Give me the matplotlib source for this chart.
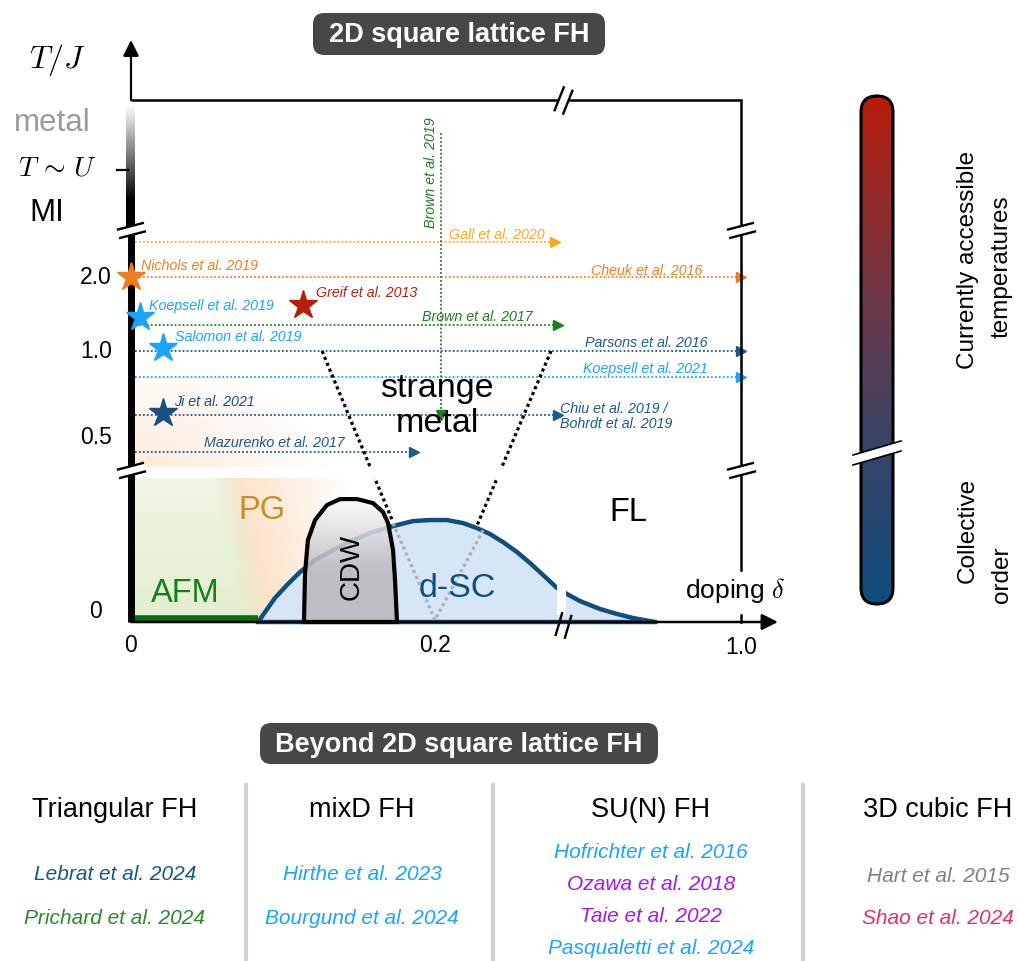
import numpy as np
import matplotlib.pyplot as plt
from matplotlib.path import Path
from matplotlib.patches import Polygon, FancyBboxPatch
from matplotlib.colors import LinearSegmentedColormap

plt.rcParams['font.family'] = ['Liberation Sans', 'DejaVu Sans']
plt.rcParams['mathtext.fontset'] = 'cm'

W, H = 1019, 961

# === 2D square lattice FH: experiments (doping delta, T/J) ===
arrow_refs = ["Gall et al. 2020", "Cheuk et al. 2016", "Brown et al. 2017", "Parsons et al. 2016",
              "Koepsell et al. 2021", "Chiu et al. 2019 /\nBohrdt et al. 2019", "Mazurenko et al. 2017"]
arrow_T = [2.47, 2.0, 1.35, 1.0, 0.85, 0.63, 0.41]
arrow_doping_end = [0.279, 1.0, 0.281, 1.0, 1.0, 0.281, 0.186]

star_refs = ["Nichols et al. 2019", "Koepsell et al. 2019", "Greif et al. 2013",
             "Salomon et al. 2019", "Ji et al. 2021"]
star_doping = [0.0, 0.006, 0.113, 0.021, 0.021]
star_T = [2.0, 1.46, 1.62, 1.04, 0.64]

vert_ref = "Brown et al. 2019"
vert_doping = 0.204
vert_T = [24.5, 0.63]

# === schematic phases (below the lower T break) ===
dome_doping = [0.0836, 0.0882, 0.0947, 0.1026, 0.1112, 0.1211, 0.1329, 0.1461, 0.1592, 0.1724,
               0.1855, 0.1967, 0.2079, 0.2184, 0.2276, 0.2362, 0.2447, 0.2539, 0.2625, 0.2711,
               0.2803, 0.2936, 0.3464, 0.4276, 0.4966, 0.5616, 0.6509]
dome_T = [0.0, 0.0197, 0.0473, 0.0730, 0.0986, 0.1223, 0.1420, 0.1617, 0.1775, 0.1893,
          0.1992, 0.2012, 0.2012, 0.1953, 0.1854, 0.1736, 0.1578, 0.1381, 0.1164, 0.0927,
          0.0671, 0.0552, 0.0414, 0.0256, 0.0158, 0.0079, 0.0]
cdw_doping = [0.1138, 0.1145, 0.1164, 0.1211, 0.1289, 0.1375, 0.1487, 0.1592, 0.1658,
              0.1691, 0.1724, 0.1737, 0.1750]
cdw_T = [0.0, 0.0966, 0.1617, 0.2012, 0.2308, 0.2426, 0.2426, 0.2347, 0.2170,
         0.1953, 0.1420, 0.0828, 0.0]
afm_doping = [0.0, 0.0836]
sm_left_doping, sm_left_T = [0.1257, 0.1724], [1.0, 0.197]
sm_right_doping, sm_right_T = [0.2263, 0.2763], [0.181, 1.0]
crit_doping, crit_T = [0.1724, 0.2, 0.2316], [0.195, 0.004, 0.181]

x_ticks, x_tick_labels = [0.0, 0.2, 1.0], ["0", "0.2", "1.0"]
y_ticks, y_tick_labels = [2.0, 1.0, 0.5, 0.02], ["2.0", "1.0", "0.5", "0"]

# === Beyond 2D square lattice FH ===
columns = ["Triangular FH", "mixD FH", "SU(N) FH", "3D cubic FH"]
column_refs = [["Lebrat et al. 2024", "Prichard et al. 2024"],
               ["Hirthe et al. 2023", "Bourgund et al. 2024"],
               ["Hofrichter et al. 2016", "Ozawa et al. 2018", "Taie et al. 2022", "Pasqualetti et al. 2024"],
               ["Hart et al. 2015", "Shao et al. 2024"]]

# === styles ===
DARK = '#1b5a8e'
LIGHT = '#1aa3ff'
arrow_colors = ['#f7a823', '#ef7d1e', '#1e7e1e', DARK, LIGHT, DARK, DARK]
arrow_label_off = [(-10, 7), (-39, 6), (-26, 8), (-33, 8), (-33, 8), (2, -2), (-69, 9)]  # px
star_colors = ['#ef7d1e', LIGHT, '#b3200e', LIGHT, '#164f80']
star_label_off = [(10, 11), (9, 11), (13, 12), (12, 11), (11, 11)]
column_colors = [['#15578a', '#2a8a2a'], [LIGHT, LIGHT],
                 [LIGHT, '#a517e8', '#a517e8', LIGHT], ['#808080', '#e0306a']]
PX = 0.72  # points per pixel at dpi 100

# === broken axes: piecewise linear scales ===
x_anchor = [-1.0, 0.0, 0.2, 0.2855, 1.0, 3.0]
x_pixel = [-1520.0, 0.0, 304.0, 434.0, 610.0, 1102.6]
y_anchor = [-1.0, 0.0, 0.3, 0.5, 1.0, 2.0, 2.6, 16.0, 32.0, 48.0, 80.0]
y_pixel = [-507.0, 0.0, 152.0, 185.0, 271.0, 345.0, 390.0, 452.0, 522.0, 582.0, 642.0]
X0, Y0 = 131, 622


def fx(v): return np.interp(v, x_anchor, x_pixel)
def fx_inv(p): return np.interp(p, x_pixel, x_anchor)
def fy(v): return np.interp(v, y_anchor, y_pixel)
def fy_inv(p): return np.interp(p, y_pixel, y_anchor)


fig = plt.figure(figsize=(W / 100, H / 100), dpi=100)
ax = fig.add_axes([0, 0, 1, 1])
ax.set_xscale('function', functions=(fx, fx_inv))
ax.set_yscale('function', functions=(fy, fy_inv))
ax.set_autoscale_on(False)
ax.set_xlim(fx_inv(-X0), fx_inv(W - X0))
ax.set_ylim(fy_inv(Y0 - H), fy_inv(Y0))
ax.axis('off')

# === background shading (AFM / PG) ===
d_e = np.linspace(0, 0.2855, 141)
T_e = np.linspace(0, 0.284, 71)
DC, TC = np.meshgrid(0.5 * (d_e[1:] + d_e[:-1]), 0.5 * (T_e[1:] + T_e[:-1]))
edge = 0.0836 - 0.0206 * TC / 0.284
w = np.clip((edge - DC) / 0.02 + 0.5, 0, 1)          # soft AFM / PG boundary
col_g = np.array([0.62, 0.78, 0.36])
col_o = np.array([0.98, 0.70, 0.45])
a_g = 0.30 - 0.14 * TC / 0.284
a_o = 0.42 * np.clip(1 - (DC - edge) / 0.08, 0, 1)
rgba = np.zeros(DC.shape + (4,))
rgba[..., :3] = w[..., None] * col_g + (1 - w[..., None]) * col_o
rgba[..., 3] = w * a_g + (1 - w) * a_o
ax.pcolormesh(d_e, T_e, rgba, zorder=1)

d_e2 = np.linspace(0, 0.16, 81)
T_e2 = fy_inv(np.linspace(155, 290, 61))
DC2, TC2 = np.meshgrid(0.5 * (d_e2[1:] + d_e2[:-1]), 0.5 * (T_e2[1:] + T_e2[:-1]))
r = np.sqrt((fx(DC2) / 200) ** 2 + ((fy(TC2) - 155) / 110) ** 2)
rgba2 = np.zeros(DC2.shape + (4,))
rgba2[..., :3] = [0.98, 0.72, 0.5]
rgba2[..., 3] = 0.3 * np.clip(1 - r, 0, 1)
ax.pcolormesh(d_e2, T_e2, rgba2, zorder=1)

# === experiments ===
dots = (0, (1, 1.2))
for name, T, d_end, c, (ox, oy) in zip(arrow_refs, arrow_T, arrow_doping_end, arrow_colors, arrow_label_off):
    ax.plot([0, d_end], [T, T], color=c, lw=1.3, ls=dots, zorder=3)
    ax.plot(d_end, T, marker='>', ms=6.5, color=c, zorder=3)
    ax.annotate(name, (d_end, T), xytext=(ox * PX, oy * PX), textcoords='offset points',
                ha='right' if ox < 0 else 'left', va='center', fontsize=10.3, style='italic',
                color=c, linespacing=1.15, zorder=12)

ax.plot([vert_doping, vert_doping], vert_T, color='#1e7e1e', lw=1.3, ls=dots, zorder=3)
ax.plot(vert_doping, vert_T[1], marker='v', ms=6.5, color='#1e7e1e', zorder=3)
ax.annotate(vert_ref, (vert_doping, vert_T[0]), xytext=(-10 * PX, 15 * PX), textcoords='offset points',
            rotation=90, ha='center', va='top', fontsize=10.3, style='italic', color='#1e7e1e', zorder=12)

# === strange metal crossover ===
ax.plot(sm_left_doping, sm_left_T, color='k', lw=2.3, ls=(0, (1, 1)), zorder=3)
ax.plot(sm_right_doping, sm_right_T, color='k', lw=2.3, ls=(0, (1, 1)), zorder=3)

# white gap at the lower T break
ax.fill_between([0.0, 0.2855], 0.284, 0.318, color='white', lw=0, zorder=4)

# === d-SC dome ===
ax.fill(dome_doping, dome_T, color='#d7e6f6', lw=0, zorder=5)
ax.plot(dome_doping, dome_T, color='#0e4f80', lw=3.2, zorder=6, solid_capstyle='butt')
ax.plot([dome_doping[0], dome_doping[-1]], [0, 0], color='#0e4f80', lw=3.2, zorder=6)
ax.plot(crit_doping, crit_T, color='#a9b1ba', lw=2.3, ls=(0, (1, 1)), zorder=6.2)
ax.fill_between([0.2803, 0.2896], 0.014, 0.12, color='white', lw=0, zorder=6.5)

# === CDW ===
cdw = Polygon(np.column_stack([cdw_doping, cdw_T]), closed=True, fc='none', ec='k', lw=3, zorder=8)
ax.add_patch(cdw)
cT_e = np.linspace(0, 0.25, 51)
cTc = 0.5 * (cT_e[1:] + cT_e[:-1])
g = 0.72 + 0.26 * np.clip((cTc - 0.1) / 0.14, 0, 1)
crgba = np.zeros((50, 1, 4))
crgba[:, 0, 0] = g
crgba[:, 0, 1] = g
crgba[:, 0, 2] = np.minimum(g + 0.01, 1)
crgba[:, 0, 3] = 0.85
mesh = ax.pcolormesh([0.11, 0.18], cT_e, crgba, zorder=7)
mesh.set_clip_path(cdw)

# === AFM line ===
ax.plot(afm_doping, [0.006, 0.006], color='#0d6e0f', lw=5.5, zorder=6, solid_capstyle='butt')

# === axes ===
ax.plot([0, 0], [0, 3.0], color='k', lw=5, solid_capstyle='butt', zorder=9)
gb_T = fy_inv(np.linspace(fy(3.0), fy(32.0), 81))
gb_c = 0.5 * (gb_T[1:] + gb_T[:-1])
lvl = np.clip((fy(gb_c) - 422) / (517 - 422), 0, 1)
gb = np.zeros((80, 1, 4))
gb[:, 0, 0] = lvl
gb[:, 0, 1] = lvl
gb[:, 0, 2] = lvl
gb[:, 0, 3] = 1
ax.pcolormesh([fx_inv(-4.5), fx_inv(4.5)], gb_T, gb, zorder=9)
ax.annotate('', xy=(0, 48), xytext=(0, 32),
            arrowprops=dict(arrowstyle='-|>,head_length=0.8,head_width=0.4', mutation_scale=12,
                            color='k', lw=1.6, shrinkA=0, shrinkB=0), zorder=9)
ax.annotate('', xy=(1.15, 0), xytext=(0, 0),
            arrowprops=dict(arrowstyle='-|>,head_length=0.8,head_width=0.4', mutation_scale=12,
                            color='k', lw=1.8, shrinkA=0, shrinkB=0), zorder=9)
ax.plot([0, 1.0], [32, 32], color='k', lw=1.8, zorder=9, solid_capstyle='butt')
ax.plot([1.0, 1.0], [32, 0.1026], color='k', lw=1.8, zorder=9)
ax.plot([1.0, 1.0], [0, 0.014], color='k', lw=1.8, zorder=9)
ax.plot([fx_inv(-14), fx_inv(-3)], [16, 16], color='k', lw=1.6, zorder=9)


def break_mark(x, y, dx, dy, sep, white=True):
    u = np.array([dx, dy]) / 2.0
    n = np.array([-dy, dx]) / np.hypot(dx, dy) * sep / 2.0
    if white:
        v = np.array([-u, u])
        m = Path(v, [Path.MOVETO, Path.LINETO])
        ax.plot(x, y, marker=m, ms=2 * np.abs(v).max() * PX, mec='white', mfc='none',
                mew=sep * PX, ls='none', zorder=10)
    v = np.array([-u + n, u + n, -u - n, u - n])
    m = Path(v, [Path.MOVETO, Path.LINETO, Path.MOVETO, Path.LINETO])
    ax.plot(x, y, marker=m, ms=2 * np.abs(v).max() * PX, mec='k', mfc='none',
            mew=1.7, ls='none', zorder=11)


for bx, by in [(0, 3.0), (0, 0.3), (1.0, 3.0), (1.0, 0.3)]:
    break_mark(bx, by, 27, 7, 8.7)
break_mark(0.284, 32, 10, 25, 9.3)
break_mark(0.284, -0.006, 7, 24, 9.6, white=False)

# === stars ===
for name, d, T, c, (ox, oy) in zip(star_refs, star_doping, star_T, star_colors, star_label_off):
    ax.plot(d, T, marker='*', ms=21, color=c, mec=c, ls='none', zorder=11)
    ax.annotate(name, (d, T), xytext=(ox * PX, oy * PX), textcoords='offset points',
                ha='left', va='center', fontsize=10.3, style='italic', color=c, zorder=12)

# === tick labels ===
for t, lab in zip(x_ticks, x_tick_labels):
    ax.text(t, -0.046 if lab != "1.0" else -0.051, lab, ha='center', va='center', fontsize=16.5, zorder=12)
for t, lab in zip(y_ticks, y_tick_labels):
    ax.text(fx_inv(-35), t, lab, ha='center', va='center', fontsize=16.5, zorder=12)

# === phase labels ===
ax.text(0.2013, 0.68, "strange\nmetal", ha='center', va='center', fontsize=24.5, linespacing=1.15, zorder=12)
ax.text(0.0862, 0.221, "PG", ha='center', va='center', fontsize=23.5, color='#c4902f', zorder=12)
ax.text(0.0355, 0.057, "AFM", ha='center', va='center', fontsize=23.5, color='#1a7d1a', zorder=12)
ax.text(0.1454, 0.108, "CDW", ha='center', va='center', fontsize=20, rotation=90, zorder=12)
ax.text(0.2145, 0.067, "d-SC", ha='center', va='center', fontsize=24.5, color='#0e4f80', zorder=12)
ax.text(0.541, 0.217, "FL", ha='center', va='center', fontsize=23.5, zorder=12)
ax.text(0.976, 0.063, r"doping $\delta$", ha='center', va='center', fontsize=19, zorder=12)

# === colour bar of accessible temperatures ===
cmap = LinearSegmentedColormap.from_list('temp', [(0, '#0e4d7f'), (0.35, '#3e4262'),
                                                  (0.6, '#6e3848'), (1, '#b81c0c')])
ax_c = fig.add_axes([845 / W, 1 - 625 / H, 65 / W, 545 / H])
pill = FancyBboxPatch((861, 96), 32, 508, boxstyle='round,pad=0,rounding_size=16',
                      fc='none', ec='black', lw=2.2, zorder=3)
ax_c.add_patch(pill)
im = ax_c.imshow(np.linspace(1, 0, 256)[:, None], cmap=cmap, extent=(861, 893, 604, 96),
                 aspect='auto', origin='upper', zorder=1)
im.set_clip_path(pill)
ax_c.plot([853, 901], [460, 446], color='white', lw=7, solid_capstyle='butt', zorder=4)
ax_c.plot([853, 901], [455, 441], color='k', lw=1.2, zorder=5)
ax_c.plot([853, 901], [465, 451], color='k', lw=1.2, zorder=5)
ax_c.set_xlim(845, 910)
ax_c.set_ylim(625, 80)
ax_c.axis('off')

# === overlay: titles, left labels, bottom panel ===
ax_l = fig.add_axes([0, 0, 1, 1], zorder=5)
ax_l.set_xlim(0, W)
ax_l.set_ylim(H, 0)
ax_l.axis('off')

for (bx, by, bw, bh), title in [((313, 13, 292, 42), "2D square lattice FH"),
                                 ((260, 723, 398, 41), "Beyond 2D square lattice FH")]:
    ax_l.add_patch(FancyBboxPatch((bx, by), bw, bh, boxstyle='round,pad=0,rounding_size=11',
                                  fc='#474747', ec='none'))
    ax_l.text(bx + bw / 2, by + bh / 2 + 1, title, color='white', fontsize=19.5, fontweight='bold',
              ha='center', va='center')

ax_l.text(57, 60, r'$T/J$', fontsize=23, ha='center', va='center')
ax_l.text(52, 123, 'metal', fontsize=22.5, color='#9a9a9a', ha='center', va='center')
ax_l.text(57, 168, r'$T\,\sim\,U$', fontsize=20, ha='center', va='center')
ax_l.text(47, 213, 'MI', fontsize=22.5, ha='center', va='center')

ax_l.text(968, 260, 'Currently accessible', rotation=90, fontsize=17.5, ha='center', va='center')
ax_l.text(1002, 267, 'temperatures', rotation=90, fontsize=17.5, ha='center', va='center')
ax_l.text(968, 530, 'Collective', rotation=90, fontsize=17.5, ha='center', va='center')
ax_l.text(1002, 575, 'order', rotation=90, fontsize=17.5, ha='center', va='center')

col_x = [115, 362, 651, 938]
ref_y = [[875, 918], [875, 918], [853, 885, 917, 948], [877, 918]]
for cx, head, refs, ys, cols in zip(col_x, columns, column_refs, ref_y, column_colors):
    ax_l.text(cx, 810, head, fontsize=19.5, ha='center', va='center')
    for name, yy, c in zip(refs, ys, cols):
        ax_l.text(cx, yy, name, fontsize=15, style='italic', color=c, ha='center', va='center')
for sx in [246, 493, 803]:
    ax_l.plot([sx, sx], [785, 961], color='#d0d0d0', lw=3)

fig.savefig("out.png", dpi=100)
print(" Saved: out.png")
